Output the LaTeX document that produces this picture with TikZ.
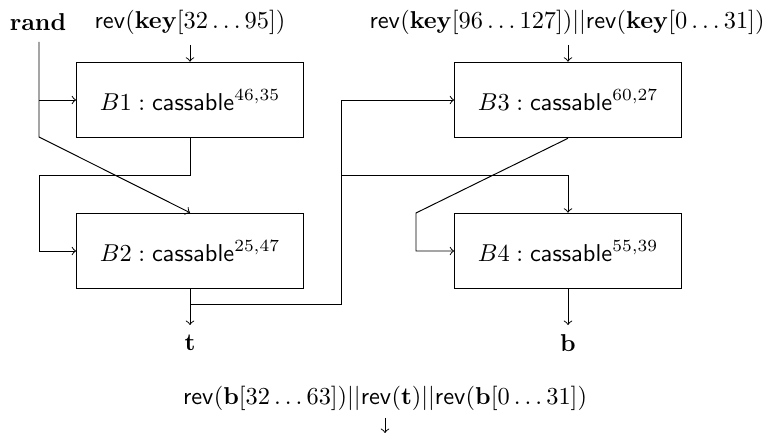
\documentclass[tikz,border=0pt]{standalone}
\usepackage{amsmath}
\begin{document}
\begin{tikzpicture}[x=0.41pt,y=-0.41pt,
  blk/.style={draw,minimum width=93pt,minimum height=31pt,inner sep=0pt},
  lbl/.style={inner sep=0pt},
  conn/.style={->}]
\useasboundingbox (0,0) rectangle (769,442);
\node[blk] (B1) at (190,100) {$B1:\mathsf{cassable}^{46,35}$};
\node[blk] (B2) at (190,251) {$B2:\mathsf{cassable}^{25,47}$};
\node[blk] (B3) at (568,100) {$B3:\mathsf{cassable}^{60,27}$};
\node[blk] (B4) at (568,251) {$B4:\mathsf{cassable}^{55,39}$};
\node[lbl] (rand) at (38,22) {$\mathbf{rand}$};
\node[lbl] (k1) at (190,22) {$\mathsf{rev}(\mathbf{key}[32\ldots95])$};
\node[lbl] (k2) at (567,22) {$\mathsf{rev}(\mathbf{key}[96\ldots127])||\mathsf{rev}(\mathbf{key}[0\ldots31])$};
\node[lbl] (t) at (190,343) {$\mathbf{t}$};
\node[lbl] (b) at (568,343) {$\mathbf{b}$};
\node[lbl] (out) at (385,398) {$\mathsf{rev}(\mathbf{b}[32\ldots63])||\mathsf{rev}(\mathbf{t})||\mathsf{rev}(\mathbf{b}[0\ldots31])$};
\coordinate (ra) at (39,42);
\coordinate (rb) at (39,100);
\coordinate (rc) at (39,137);
\coordinate (k1a) at (190,45);
\coordinate (k2a) at (568,45);
\coordinate (oa) at (385,418);
\coordinate (ob) at (385,433);
% rand
\draw[conn] (ra) -- (rc) -- (B2.north);
\draw[conn] (rb) -- (B1.west);
% key arrows
\draw[conn] (k1a) -- (B1.north);
\draw[conn] (k2a) -- (B3.north);
% B1 -> B2
\draw[conn] (B1.south) |- (39,175) |- (B2.west);
% B2 -> t, B3, B4
\draw[conn] (B2.south) -- (190,325);
\draw[conn] (190,304) -| (341,100) -- (B3.west);
\draw[conn] (341,175) -| (B4.north);
% B3 -> B4
\draw[conn] (B3.south) -- (416,213) |- (B4.west);
% B4 -> b
\draw[conn] (B4.south) -- (568,325);
% output arrow
\draw[conn] (oa) -- (ob);
\end{tikzpicture}
\end{document}
